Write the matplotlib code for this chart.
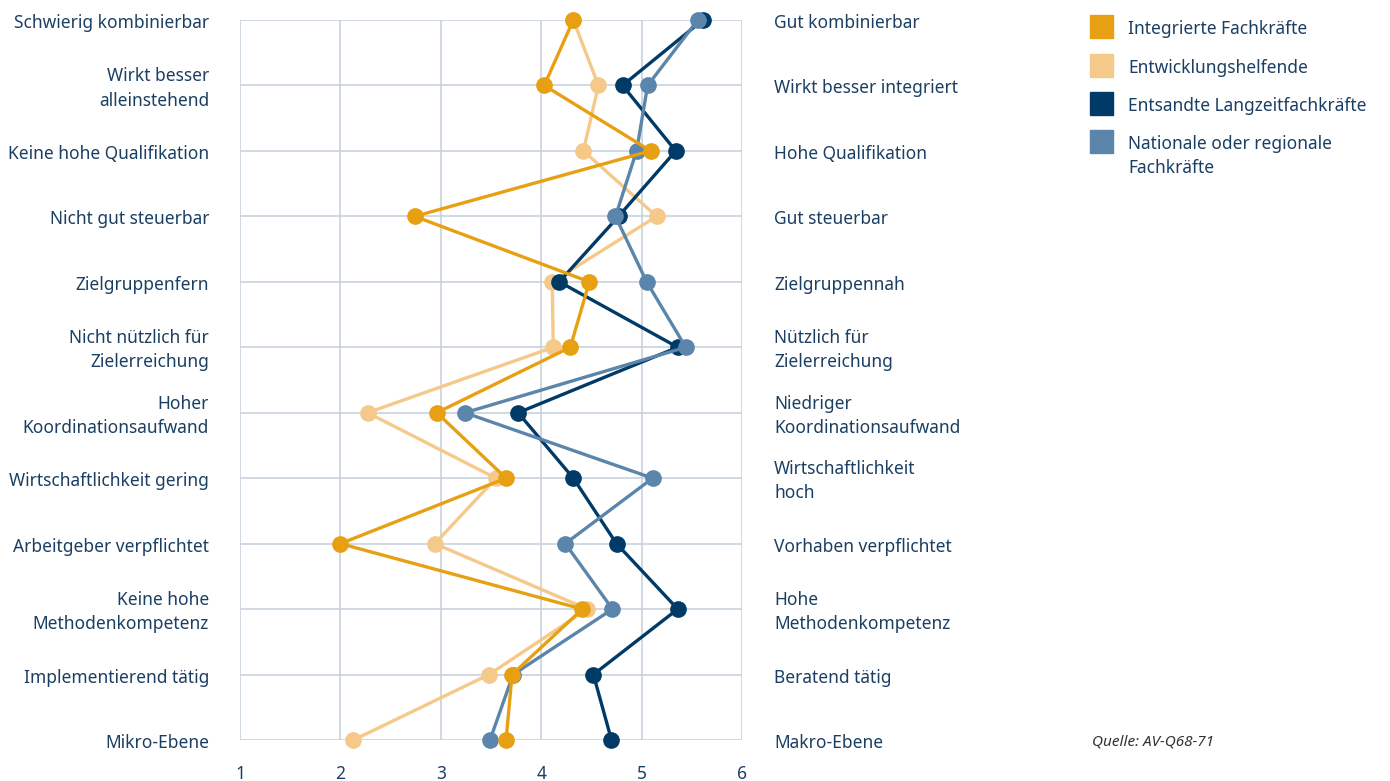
import matplotlib.pyplot as plt
from matplotlib.patches import Rectangle
from matplotlib import transforms

# row labels (top -> bottom)
LEFT = ["Schwierig kombinierbar", "Wirkt besser\nalleinstehend", "Keine hohe Qualifikation",
        "Nicht gut steuerbar", "Zielgruppenfern", "Nicht nützlich für\nZielerreichung",
        "Hoher\nKoordinationsaufwand", "Wirtschaftlichkeit gering", "Arbeitgeber verpflichtet",
        "Keine hohe\nMethodenkompetenz", "Implementierend tätig", "Mikro-Ebene"]
RIGHT = ["Gut kombinierbar", "Wirkt besser integriert", "Hohe Qualifikation",
         "Gut steuerbar", "Zielgruppennah", "Nützlich für\nZielerreichung",
         "Niedriger\nKoordinationsaufwand", "Wirtschaftlichkeit\nhoch", "Vorhaben verpflichtet",
         "Hohe\nMethodenkompetenz", "Beratend tätig", "Makro-Ebene"]

integrierte = [4.32, 4.03, 5.09, 2.74, 4.48, 4.29, 2.96, 3.65, 2.00, 4.41, 3.71, 3.65]
entwicklung = [4.32, 4.57, 4.42, 5.15, 4.11, 4.12, 2.27, 3.55, 2.94, 4.46, 3.48, 2.13]
entsandte   = [5.61, 4.81, 5.34, 4.77, 4.18, 5.36, 3.77, 4.32, 4.75, 5.36, 4.52, 4.70]
nationale   = [5.56, 5.06, 4.95, 4.74, 5.05, 5.44, 3.24, 5.11, 4.24, 4.71, 3.72, 3.49]

SERIES = [  # label, values, colour, zorder
    ("Integrierte Fachkräfte", integrierte, "#E8A013", 6),
    ("Entwicklungshelfende", entwicklung, "#F5C98A", 3),
    ("Entsandte Langzeitfachkräfte", entsandte, "#003A66", 4),
    ("Nationale oder regionale\nFachkräfte", nationale, "#5B85AA", 5),
]

TXT = "#1B3F63"
GRID = "#C8D2DE"
plt.rcParams['font.family'] = ['Noto Sans', 'DejaVu Sans']

fig = plt.figure(figsize=(13.9, 7.81), dpi=100)
ax = fig.add_axes([240/1390, 41/781, 502/1390, 720/781])
rows = list(range(len(LEFT)))

for name, vals, col, z in SERIES:
    ax.plot(vals, rows, color=col, lw=2.4, marker="o", ms=11, zorder=z, clip_on=False)

ax.set_xlim(1, 6); ax.set_ylim(11, 0)
ax.set_xticks(range(1, 7)); ax.set_yticks(rows)
ax.set_yticklabels([])
ax.grid(True, color=GRID, lw=1.2)
ax.set_axisbelow(True)
for s in ax.spines.values(): s.set_visible(False)
ax.tick_params(length=0, pad=18, labelsize=12.5, labelcolor=TXT)

down = transforms.ScaledTranslation(0, -3/100, fig.dpi_scale_trans)
tr = transforms.blended_transform_factory(fig.transFigure, ax.transData) + down
for i, (l, r) in enumerate(zip(LEFT, RIGHT)):
    fig.text(209/1390, i, l, transform=tr, ha="right", va="center", fontsize=12.5,
             color=TXT, linespacing=1.45)
    fig.text(774/1390, i, r, transform=tr, ha="left", va="center", fontsize=12.5,
             color=TXT, linespacing=1.45)

# legend
ys = [27, 66, 104, 154]
for (name, _, col, _), y in zip(SERIES, ys):
    sq_y = 142 if "\n" in name else y
    fig.patches.append(Rectangle((1090/1390, 1 - (sq_y + 11)/781), 23/1390, 23/781,
                                 transform=fig.transFigure, color=col))
    fig.text(1128/1390, 1 - (y + 2)/781, name, ha="left", va="center",
             fontsize=12.5, color=TXT, linespacing=1.45)

fig.text(1092/1390, 1 - 742/781, "Quelle: AV-Q68-71", ha="left", va="center",
         fontsize=11, style="italic", color="#333333")

fig.savefig("out.png", dpi=100)
